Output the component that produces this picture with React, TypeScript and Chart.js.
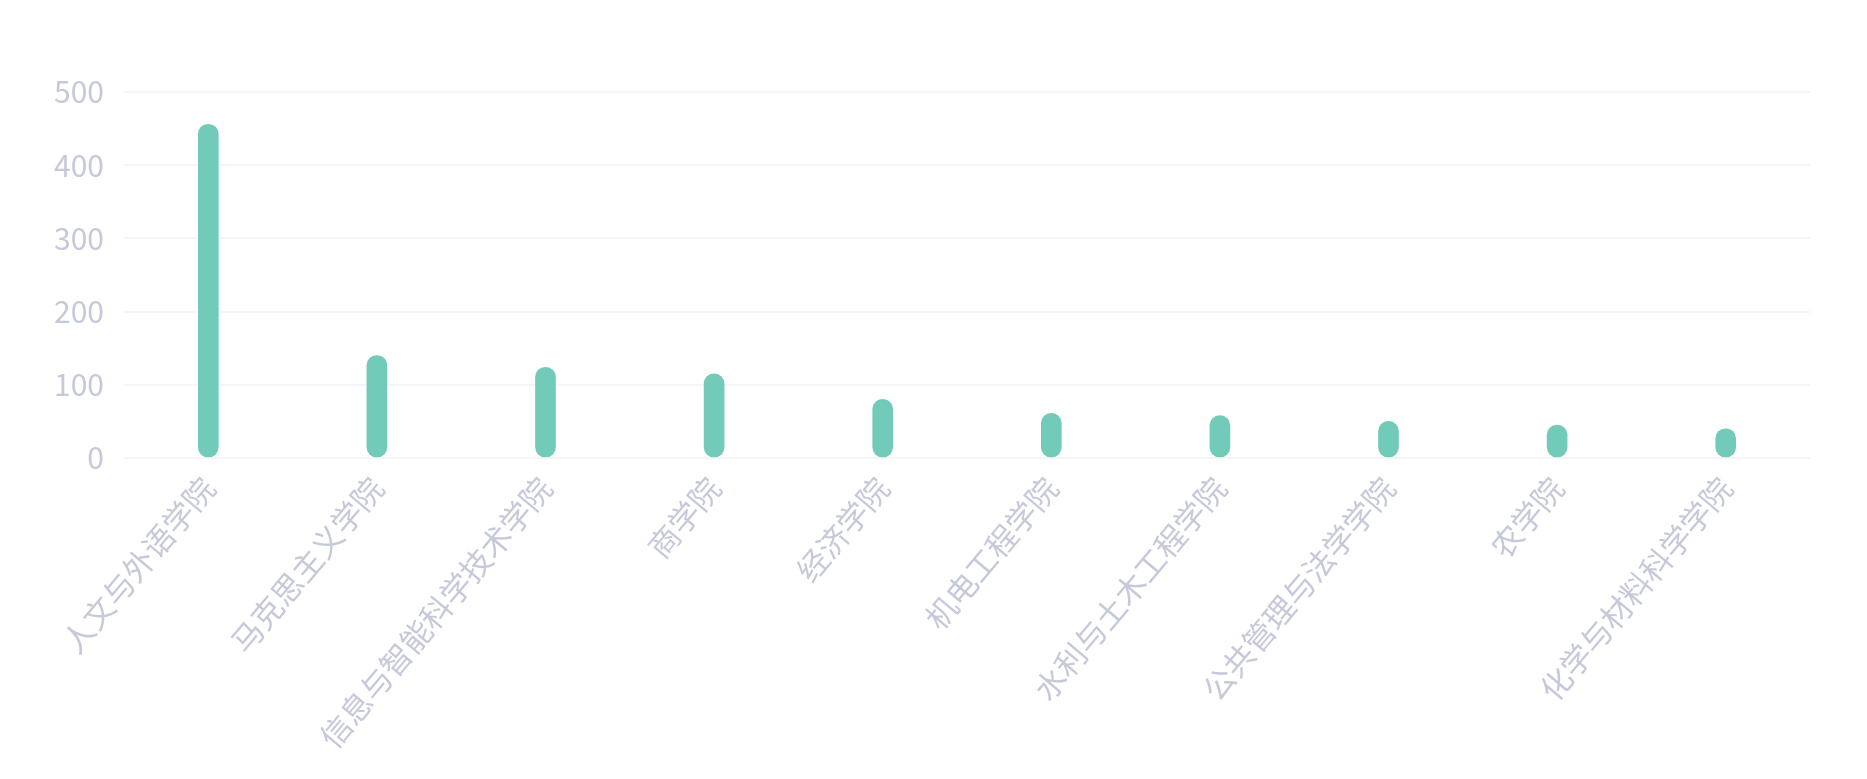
import React, { useEffect, useRef } from "react";
import { Chart, registerables } from "chart.js";

Chart.register(...registerables);

const categories: string[] = [
  "人文与外语学院",
  "马克思主义学院",
  "信息与智能科学技术学院",
  "商学院",
  "经济学院",
  "机电工程学院",
  "水利与土木工程学院",
  "公共管理与法学学院",
  "农学院",
  "化学与材料科学学院",
];

const counts: number[] = [456, 140, 124, 115, 80, 61, 58, 50, 45, 40];

const yTicks = { min: 0, max: 500, step: 100 };

const FONT = "'Noto Sans CJK SC', 'Noto Sans', sans-serif";
const LABEL_COLOR = "#c6c9d9";

export default function App() {
  const ref = useRef<HTMLCanvasElement | null>(null);

  useEffect(() => {
    if (!ref.current) return;
    const chart = new Chart(ref.current, {
      type: "bar",
      data: {
        labels: categories,
        datasets: [
          {
            data: counts,
            backgroundColor: "#72cbb9",
            barThickness: 20,
            borderRadius: 10,
            borderSkipped: false,
          },
        ],
      },
      options: {
        animation: false,
        responsive: true,
        maintainAspectRatio: false,
        layout: { padding: { top: 92, right: 57, left: 0, bottom: 0 } },
        plugins: {
          legend: { display: false },
          tooltip: { enabled: false },
        },
        scales: {
          x: {
            grid: { display: false },
            border: { display: false },
            ticks: {
              autoSkip: false,
              minRotation: 50,
              maxRotation: 50,
              padding: 4,
              color: LABEL_COLOR,
              font: { family: FONT, size: 31, weight: "normal" },
            },
            afterFit: (scale: any) => {
              scale.height = 321;
            },
          },
          y: {
            min: yTicks.min,
            max: yTicks.max,
            grid: { color: "#f5f5f9", lineWidth: 2, drawTicks: false },
            border: { display: false },
            ticks: {
              stepSize: yTicks.step,
              padding: 20,
              color: LABEL_COLOR,
              font: { family: FONT, size: 30, weight: "normal" },
            },
            afterFit: (scale: any) => {
              scale.width = 124;
            },
          },
        },
      },
    });
    return () => chart.destroy();
  }, []);

  return (
    <div
      style={{
        position: "fixed",
        left: 0,
        top: 0,
        width: 1867,
        height: 779,
        background: "#ffffff",
      }}
    >
      <canvas ref={ref} />
    </div>
  );
}
